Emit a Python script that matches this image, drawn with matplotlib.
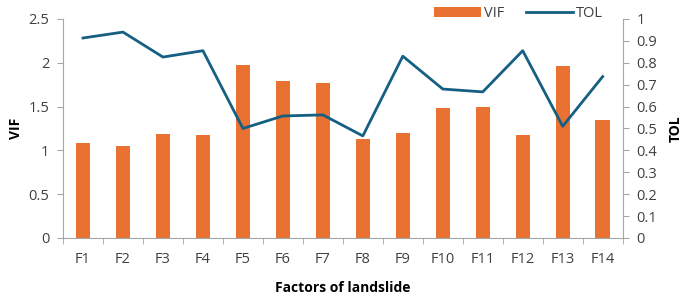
import numpy as np
import matplotlib
matplotlib.use("Agg")
import matplotlib.pyplot as plt

factors = ["F1", "F2", "F3", "F4", "F5", "F6", "F7", "F8", "F9", "F10", "F11", "F12", "F13", "F14"]
vif = [1.08, 1.05, 1.19, 1.17, 1.97, 1.79, 1.77, 1.13, 1.20, 1.48, 1.49, 1.17, 1.96, 1.35]
tol = [0.913, 0.94, 0.826, 0.855, 0.50, 0.557, 0.562, 0.466, 0.83, 0.68, 0.667, 0.855, 0.51, 0.737]

plt.rcParams['font.family'] = ['Open Sans', 'DejaVu Sans']
grey = "#a6a6a6"
txt = "#404040"

fig = plt.figure(figsize=(6.85, 2.96), dpi=100)
ax = fig.add_axes([0.092, 0.196, 0.817, 0.74])
x = np.arange(len(factors))
b = ax.bar(x, vif, width=0.36, color="#E97132", label="VIF", zorder=2)
ax.set_xlim(-0.5, len(factors) - 0.5)
ax.set_ylim(0, 2.5)
ax.set_yticks([0, 0.5, 1, 1.5, 2, 2.5])
ax.set_yticklabels(["0", "0.5", "1", "1.5", "2", "2.5"])
ax.set_xticks(x)
ax.set_xticklabels(factors)
ax.set_xticks(np.arange(-0.5, len(factors)), minor=True)
ax.tick_params(axis="x", which="major", length=0, pad=10, labelsize=10.5, colors=txt)
ax.tick_params(axis="x", which="minor", length=4, color=grey, direction="out")
ax.tick_params(axis="y", length=4, color=grey, labelsize=10.5, labelcolor=txt, pad=6)
ax.set_ylabel("VIF", fontsize=10, fontweight="bold", color="black", labelpad=4)
ax.set_xlabel("Factors of landslide", fontsize=10, fontweight="bold", color="black", labelpad=10)

ax2 = ax.twinx()
l, = ax2.plot(x, tol, color="#156082", linewidth=2, label="TOL", zorder=3)
ax2.set_ylim(0, 1)
ax2.set_yticks(np.round(np.arange(0, 1.01, 0.1), 1))
ax2.set_yticklabels(["0", "0.1", "0.2", "0.3", "0.4", "0.5", "0.6", "0.7", "0.8", "0.9", "1"])
ax2.tick_params(axis="y", length=4, color=grey, labelsize=10.5, labelcolor=txt, pad=6)
ax2.set_ylabel("TOL", fontsize=10, fontweight="bold", color="black", labelpad=8)

for a in (ax, ax2):
    a.spines["top"].set_visible(False)
    for s in ("left", "right", "bottom"):
        a.spines[s].set_color(grey)
ax.spines["right"].set_visible(False)
ax2.spines["left"].set_visible(False)
ax2.spines["bottom"].set_visible(False)

fig.legend([b, l], ["VIF", "TOL"], loc="center", bbox_to_anchor=(0.757, 0.955), ncol=2,
           frameon=False, fontsize=10.5, handlelength=3.2, handleheight=0.7, columnspacing=1.5,
           handletextpad=0.2, labelcolor=txt)

fig.savefig("out.png", dpi=100)
